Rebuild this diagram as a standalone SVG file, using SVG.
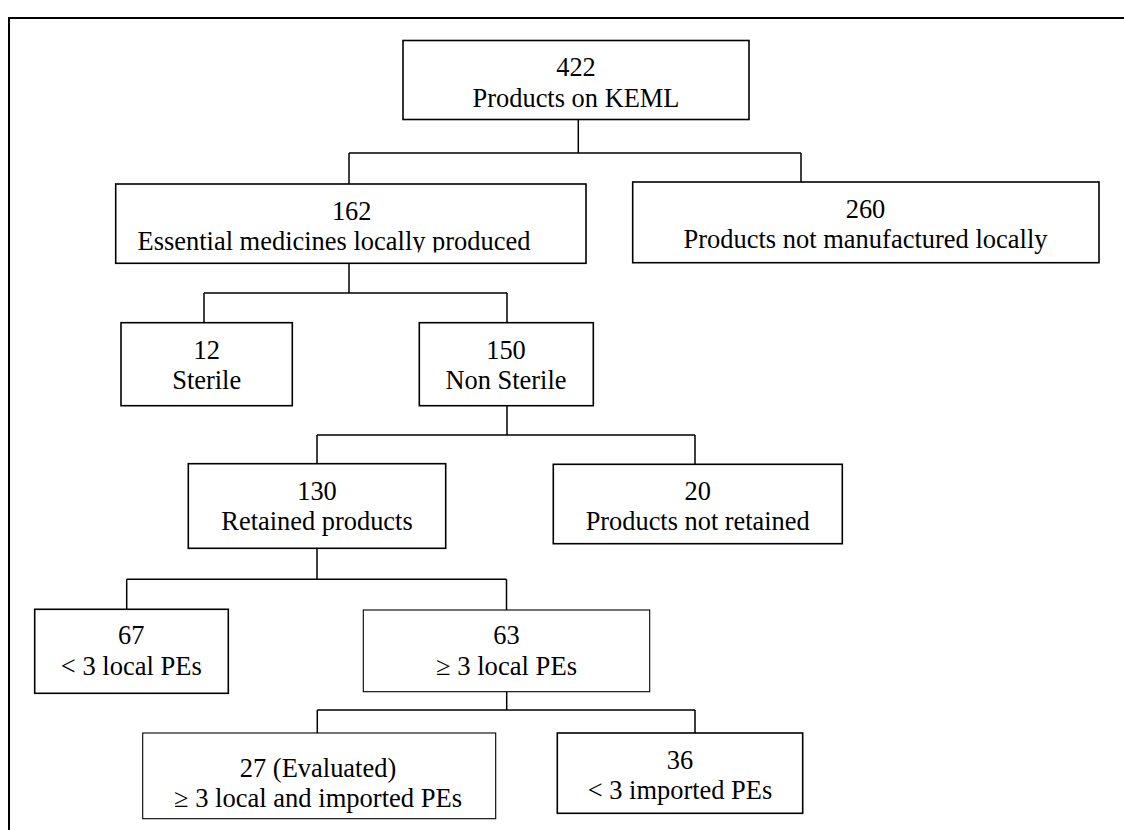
<svg xmlns="http://www.w3.org/2000/svg" width="1124" height="830" viewBox="0 0 1124 830">
<style>
.box{fill:#fff;stroke:#000;stroke-width:1.6}
.thin{stroke-width:1.1}
.t{font-family:'Liberation Serif','DejaVu Serif','Noto Serif',serif;font-size:26.4px;fill:#000;text-anchor:middle}
.c{fill:none;stroke:#000;stroke-width:1.5}
</style>
<defs>
<clipPath id="clip162"><rect x="115" y="184" width="472" height="68.5"/></clipPath>
</defs>
<rect x="0" y="0" width="1124" height="830" fill="#fff"/>
<path d="M9 831 V18 H1125" fill="none" stroke="#000" stroke-width="2"/>
<g id="connectors" class="c">
<path d="M578.3 120 V153 M349 153 H801 M349 153 V184 M801 153 V182"/>
<path d="M349 263.3 V293 M204 293 H507 M204 293 V322.7 M507 293 V322.7"/>
<path d="M507 405.7 V435 M317 435 H695 M317 435 V463.7 M695 435 V464.3"/>
<path d="M317 548.3 V579.3 M126.7 579.3 H506.5 M126.7 579.3 V609.3 M506.5 579.3 V610"/>
<path d="M506.7 691.7 V710 M317.3 710 H695 M317.3 710 V733 M695 710 V733"/>
</g>
<g id="n422"><rect class="box" x="403" y="40.5" width="346" height="79"/>
<text class="t" x="576" y="76" textLength="39.6" lengthAdjust="spacingAndGlyphs">422</text><text class="t" x="576" y="106.5" textLength="207" lengthAdjust="spacingAndGlyphs">Products on KEML</text></g>
<g id="n162"><rect class="box" x="115.7" y="184" width="470.3" height="79.3"/>
<text class="t" x="351.7" y="220" textLength="39.6" lengthAdjust="spacingAndGlyphs">162</text><text class="t" x="334" y="250" textLength="393" lengthAdjust="spacingAndGlyphs" clip-path="url(#clip162)">Essential medicines locally produced</text></g>
<g id="n260"><rect class="box" x="632.7" y="182" width="466.3" height="80.7"/>
<text class="t" x="865.5" y="218.3" textLength="39.6" lengthAdjust="spacingAndGlyphs">260</text><text class="t" x="865.5" y="248.3" textLength="364" lengthAdjust="spacingAndGlyphs">Products not manufactured locally</text></g>
<g id="n12"><rect class="box" x="121" y="322.7" width="171.3" height="83"/>
<text class="t" x="206.7" y="359.3" textLength="26.4" lengthAdjust="spacingAndGlyphs">12</text><text class="t" x="206.7" y="389.3" textLength="69" lengthAdjust="spacingAndGlyphs">Sterile</text></g>
<g id="n150"><rect class="box" x="419.3" y="322.7" width="174" height="83"/>
<text class="t" x="506" y="359.3" textLength="39.6" lengthAdjust="spacingAndGlyphs">150</text><text class="t" x="506" y="389.3" textLength="121" lengthAdjust="spacingAndGlyphs">Non Sterile</text></g>
<g id="n130"><rect class="box" x="188.3" y="463.7" width="257.4" height="84.6"/>
<text class="t" x="317" y="500" textLength="39.6" lengthAdjust="spacingAndGlyphs">130</text><text class="t" x="317" y="530" textLength="191.4" lengthAdjust="spacingAndGlyphs">Retained products</text></g>
<g id="n20"><rect class="box" x="553.3" y="464.3" width="289" height="79.4"/>
<text class="t" x="697.7" y="500" textLength="26.4" lengthAdjust="spacingAndGlyphs">20</text><text class="t" x="697.7" y="530" textLength="224" lengthAdjust="spacingAndGlyphs">Products not retained</text></g>
<g id="n67"><rect class="box" x="34.7" y="609.3" width="193.6" height="84"/>
<text class="t" x="131.3" y="644" textLength="26.4" lengthAdjust="spacingAndGlyphs">67</text><text class="t" x="131.3" y="675" textLength="141" lengthAdjust="spacingAndGlyphs">&lt; 3 local PEs</text></g>
<g id="n63"><rect class="box thin" x="363.3" y="610" width="286.4" height="81.7"/>
<text class="t" x="506.5" y="644" textLength="26.4" lengthAdjust="spacingAndGlyphs">63</text><text class="t" x="506.5" y="675" textLength="141" lengthAdjust="spacingAndGlyphs">≥ 3 local PEs</text></g>
<g id="n27"><rect class="box thin" x="142.7" y="733" width="353" height="85.7"/>
<text class="t" x="318" y="776.7" textLength="156.5" lengthAdjust="spacingAndGlyphs">27 (Evaluated)</text><text class="t" x="318" y="806.7" textLength="288" lengthAdjust="spacingAndGlyphs">≥ 3 local and imported PEs</text></g>
<g id="n36"><rect class="box" x="557.3" y="733" width="245.4" height="80.3"/>
<text class="t" x="680" y="769" textLength="26.4" lengthAdjust="spacingAndGlyphs">36</text><text class="t" x="680" y="799.3" textLength="184.4" lengthAdjust="spacingAndGlyphs">&lt; 3 imported PEs</text></g>
</svg>
